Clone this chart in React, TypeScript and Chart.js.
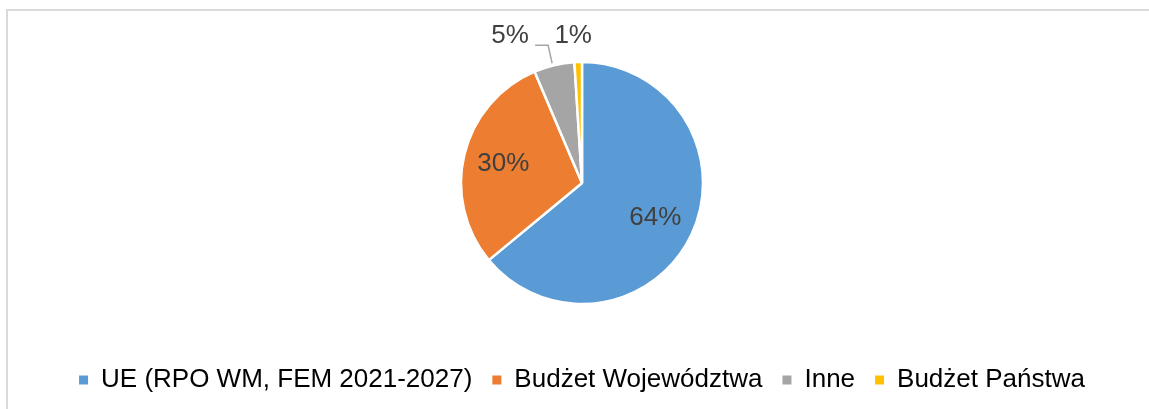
import React, { useEffect, useRef } from "react";
import { Chart, registerables } from "chart.js";

Chart.register(...registerables);

const categories = ["UE (RPO WM, FEM 2021-2027)", "Budżet Województwa", "Inne", "Budżet Państwa"];
const shares = [64.0, 29.6, 5.4, 1.0];
const colors = ["#5B9BD5", "#ED7D31", "#A5A5A5", "#FFC000"];

const FONT = "'Liberation Sans', Arial, sans-serif";

// label placement for small slices (offset from the arc's outer mid point)
const outsideOffsets: Record<number, { dx: number; dy: number; leader: boolean }> = {
  2: { dx: -44, dy: -29, leader: true },
  3: { dx: -5, dy: -26, leader: false },
};

const labelPlugin = {
  id: "sliceLabels",
  afterDatasetsDraw(chart: any) {
    const ctx = chart.ctx as CanvasRenderingContext2D;
    const meta = chart.getDatasetMeta(0);
    const total = shares.reduce((a, b) => a + b, 0);
    ctx.save();
    ctx.font = `26px ${FONT}`;
    ctx.fillStyle = "#404040";
    ctx.textAlign = "center";
    ctx.textBaseline = "middle";
    meta.data.forEach((arc: any, i: number) => {
      const { x, y, startAngle, endAngle, outerRadius } = arc.getProps(
        ["x", "y", "startAngle", "endAngle", "outerRadius"],
        true
      );
      const mid = (startAngle + endAngle) / 2;
      const frac = shares[i] / total;
      const txt = Math.round(frac * 100) + "%";
      if (frac > 0.1) {
        const r = outerRadius * 0.67;
        ctx.fillText(txt, x + Math.cos(mid) * r, y + Math.sin(mid) * r);
      } else {
        const ax = x + Math.cos(mid) * outerRadius;
        const ay = y + Math.sin(mid) * outerRadius;
        const off = outsideOffsets[i] || { dx: 0, dy: -24, leader: false };
        if (off.leader) {
          ctx.save();
          ctx.strokeStyle = "#A6A6A6";
          ctx.lineWidth = 1.5;
          ctx.beginPath();
          ctx.moveTo(ax - 2, ay - 2);
          ctx.lineTo(ax - 6, ay - 20);
          ctx.lineTo(ax - 19, ay - 20);
          ctx.stroke();
          ctx.restore();
        }
        ctx.fillText(txt, ax + off.dx, ay + off.dy);
      }
    });
    ctx.restore();
  },
};

export default function App() {
  const ref = useRef<HTMLCanvasElement | null>(null);
  useEffect(() => {
    if (!ref.current) return;
    const chart = new Chart(ref.current, {
      type: "pie",
      data: {
        labels: categories,
        datasets: [
          {
            data: shares,
            backgroundColor: colors,
            borderColor: "#ffffff",
            borderWidth: 2.5,
            radius: 121,
          },
        ],
      },
      options: {
        animation: false,
        responsive: false,
        maintainAspectRatio: false,
        layout: { padding: { top: 8, bottom: 6, left: 0, right: 0 } },
        plugins: {
          tooltip: { enabled: false },
          legend: {
            position: "bottom",
            labels: {
              boxWidth: 9,
              boxHeight: 9,
              padding: 20,
              color: "#000000",
              font: { family: FONT, size: 26 },
              generateLabels: (c: any) =>
                categories.map((t, i) => ({
                  text: t,
                  fillStyle: colors[i],
                  strokeStyle: colors[i],
                  lineWidth: 0,
                  hidden: false,
                  index: i,
                })),
            },
          },
        },
      },
      plugins: [labelPlugin],
    });
    return () => chart.destroy();
  }, []);

  return (
    <div
      style={{
        position: "fixed",
        left: 0,
        top: 0,
        width: 1149,
        height: 409,
        overflow: "hidden",
        background: "#ffffff",
      }}
    >
      <div
        style={{
          position: "absolute",
          left: 6,
          top: 9,
          width: 1160,
          height: 420,
          borderTop: "2px solid #D9D9D9",
          borderLeft: "2px solid #D9D9D9",
        }}
      >
        <canvas ref={ref} width={1148} height={398} style={{ display: "block" }} />
      </div>
    </div>
  );
}
